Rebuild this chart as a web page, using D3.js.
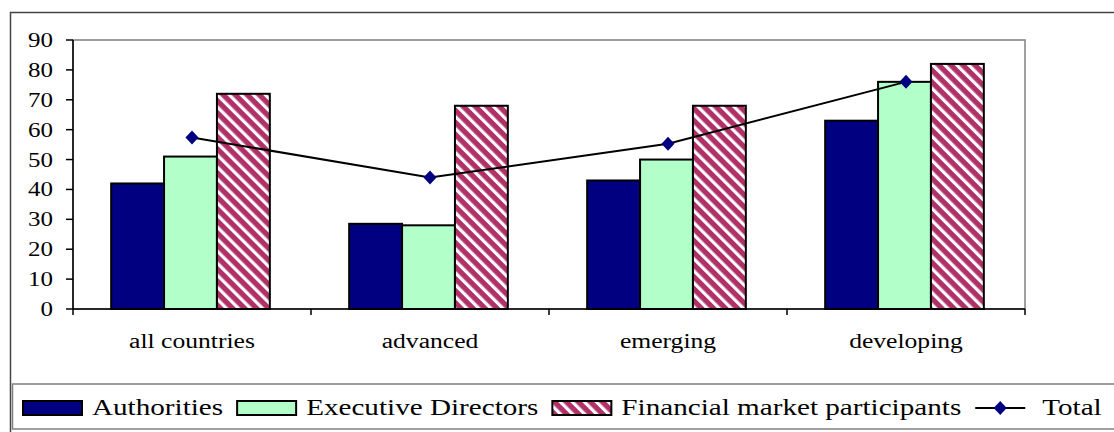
<!DOCTYPE html>
<html>
<head>
<meta charset="utf-8">
<script src="https://cdn.jsdelivr.net/npm/d3@7"></script>
<style>
  body { margin: 0; background: #fff; }
  svg { display: block; }
</style>
</head>
<body>
<svg id="chart" width="1114" height="432"></svg>
<script>
const categories = ["all countries", "advanced", "emerging", "developing"];
const authorities = [42, 28.5, 43, 63];
const executiveDirectors = [51, 28, 50, 76];
const marketParticipants = [72, 68, 68, 82];
const total = [57.4, 44, 55.3, 76];
const yTicks = [0, 10, 20, 30, 40, 50, 60, 70, 80, 90];
const seriesNames = ["Authorities", "Executive Directors", "Financial market participants"];
const totalName = "Total";

const FONT = "'Liberation Serif', 'Times New Roman', serif";
const svg = d3.select("#chart");
const plot = { left: 73, right: 1025, top: 40, bottom: 309 };

// pattern for the hatched bars
const defs = svg.append("defs");
const pat = defs.append("pattern")
  .attr("id", "hatch")
  .attr("patternUnits", "userSpaceOnUse")
  .attr("width", 8.5).attr("height", 8.5)
  .attr("patternTransform", "rotate(-45)");
pat.append("rect").attr("width", 8.5).attr("height", 8.5).attr("fill", "#b03068");
pat.append("rect").attr("width", 3.2).attr("height", 8.5).attr("fill", "#fff");

const fills = ["#000080", "#b3ffc9", "url(#hatch)"];

// outer frame
svg.append("rect")
  .attr("x", 10.5).attr("y", 12.5)
  .attr("width", 1120).attr("height", 440)
  .attr("fill", "none").attr("stroke", "#444").attr("stroke-width", 1.5);

const x = d3.scaleBand().domain(categories).range([plot.left, plot.right]).padding(0);
const y = d3.scaleLinear().domain([0, 90]).range([plot.bottom, plot.top]);

const bw = x.bandwidth() / 4.5;
const xs = d3.scaleBand().domain(d3.range(3))
  .range([x.bandwidth() / 2 - 1.5 * bw - 1.5, x.bandwidth() / 2 + 1.5 * bw - 1.5]);

// plot area border (top / right)
svg.append("rect")
  .attr("x", plot.left).attr("y", plot.top)
  .attr("width", plot.right - plot.left).attr("height", plot.bottom - plot.top)
  .attr("fill", "none").attr("stroke", "#808080").attr("stroke-width", 1.5);

// bars
const seriesData = [authorities, executiveDirectors, marketParticipants];
seriesData.forEach((vals, si) => {
  svg.append("g").selectAll("rect")
    .data(vals)
    .enter()
    .append("rect")
    .attr("x", (d, i) => x(categories[i]) + xs(si))
    .attr("y", d => y(d))
    .attr("width", xs.bandwidth())
    .attr("height", d => y(0) - y(d))
    .attr("fill", fills[si])
    .attr("stroke", "#000")
    .attr("stroke-width", 2);
});

// y axis
svg.append("line")
  .attr("x1", plot.left).attr("x2", plot.left)
  .attr("y1", plot.top).attr("y2", plot.bottom)
  .attr("stroke", "#000").attr("stroke-width", 1.5);
svg.append("g").selectAll("line")
  .data(yTicks)
  .enter()
  .append("line")
  .attr("x1", plot.left - 7).attr("x2", plot.left)
  .attr("y1", d => y(d)).attr("y2", d => y(d))
  .attr("stroke", "#000").attr("stroke-width", 1.5);
svg.append("g").selectAll("text")
  .data(yTicks)
  .enter()
  .append("text")
  .attr("transform", d => `translate(53,${y(d)}) scale(1.25,1)`)
  .attr("dy", "0.35em")
  .attr("text-anchor", "end")
  .attr("font-family", FONT)
  .attr("font-size", 20)
  .attr("fill", "#000")
  .text(d => d);

// x axis
svg.append("line")
  .attr("x1", plot.left).attr("x2", plot.right)
  .attr("y1", plot.bottom).attr("y2", plot.bottom)
  .attr("stroke", "#000").attr("stroke-width", 1.5);
const bounds = categories.map(c => x(c)).concat([x.range()[1]]);
svg.append("g").selectAll("line")
  .data(bounds)
  .enter()
  .append("line")
  .attr("x1", d => d).attr("x2", d => d)
  .attr("y1", plot.bottom).attr("y2", plot.bottom + 6)
  .attr("stroke", "#000").attr("stroke-width", 1.5);
svg.append("g").selectAll("text")
  .data(categories)
  .enter()
  .append("text")
  .attr("transform", d => `translate(${x(d) + x.bandwidth() / 2},348) scale(1.28,1)`)
  .attr("text-anchor", "middle")
  .attr("font-family", FONT)
  .attr("font-size", 20)
  .attr("fill", "#000")
  .text(d => d);

// total line
const line = d3.line()
  .x((d, i) => x(categories[i]) + x.bandwidth() / 2)
  .y(d => y(d));
svg.append("path")
  .datum(total)
  .attr("fill", "none")
  .attr("stroke", "#000")
  .attr("stroke-width", 2)
  .attr("d", line);
const diamond = "M0,-7L6.5,0L0,7L-6.5,0Z";
svg.append("g").selectAll("path")
  .data(total)
  .enter()
  .append("path")
  .attr("transform", (d, i) => `translate(${x(categories[i]) + x.bandwidth() / 2},${y(d)})`)
  .attr("d", diamond)
  .attr("fill", "#000080");

// legend
svg.append("rect")
  .attr("x", 12.5).attr("y", 384)
  .attr("width", 1120).attr("height", 45)
  .attr("fill", "#fff").attr("stroke", "#808080").attr("stroke-width", 1.5);

const lg = svg.append("g");
const sx = 1.215;
let cx = 23;
const gaps = [14, 14, 14];
seriesNames.forEach((name, i) => {
  lg.append("rect")
    .attr("x", cx).attr("y", 401)
    .attr("width", 59).attr("height", 14)
    .attr("fill", fills[i])
    .attr("stroke", "#000").attr("stroke-width", 2);
  cx += 59 + 10;
  const t = lg.append("text")
    .attr("transform", `translate(${cx},415) scale(${sx},1)`)
    .attr("font-family", FONT)
    .attr("font-size", 24)
    .attr("fill", "#000")
    .text(name);
  cx += t.node().getComputedTextLength() * sx + gaps[i];
});
lg.append("line")
  .attr("x1", cx).attr("x2", cx + 50)
  .attr("y1", 408).attr("y2", 408)
  .attr("stroke", "#000").attr("stroke-width", 2);
lg.append("path")
  .attr("transform", `translate(${cx + 25},408)`)
  .attr("d", diamond)
  .attr("fill", "#000080");
cx += 50 + 17;
lg.append("text")
  .attr("transform", `translate(${cx},415) scale(${sx},1)`)
  .attr("font-family", FONT)
  .attr("font-size", 24)
  .attr("fill", "#000")
  .text(totalName);
</script>
</body>
</html>
